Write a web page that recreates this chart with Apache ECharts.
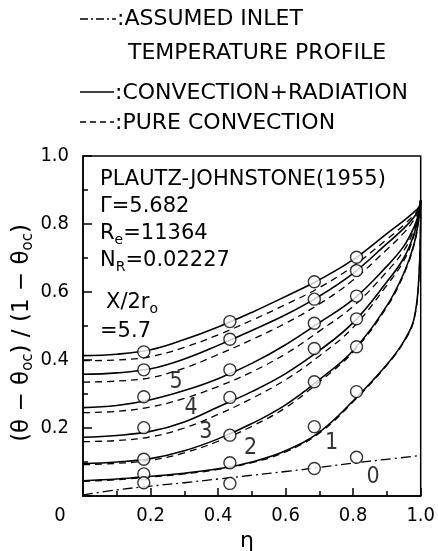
<!DOCTYPE html>
<html>
<head>
<meta charset="utf-8">
<script src="https://cdn.jsdelivr.net/npm/echarts@6/dist/echarts.min.js"></script>
<style>
  html, body { margin: 0; padding: 0; background: #fff; }
  #chart { width: 438px; height: 551px; }
</style>
</head>
<body>
<div id="chart"></div>
<script>
// eta grid for the computed profiles
const ETA = [0, 0.1, 0.2, 0.3, 0.4, 0.5, 0.6, 0.7, 0.8, 0.9, 0.95, 0.98, 0.995, 1.0];

// convection + radiation (solid)
const rad57 = [0.413, 0.417, 0.430, 0.460, 0.497, 0.540, 0.587, 0.636, 0.695, 0.772, 0.810, 0.835, 0.850, 0.870];
const rad5  = [0.358, 0.362, 0.374, 0.403, 0.443, 0.487, 0.533, 0.588, 0.655, 0.742, 0.787, 0.820, 0.845, 0.870];
const rad4  = [0.260, 0.266, 0.283, 0.310, 0.345, 0.390, 0.445, 0.510, 0.578, 0.676, 0.735, 0.790, 0.835, 0.870];
const rad3  = [0.173, 0.178, 0.190, 0.218, 0.262, 0.307, 0.360, 0.428, 0.510, 0.630, 0.700, 0.770, 0.830, 0.870];
const rad2  = [0.095, 0.100, 0.110, 0.133, 0.168, 0.213, 0.268, 0.342, 0.428, 0.560, 0.655, 0.740, 0.820, 0.870];
const rad1  = [0.045, 0.050, 0.058, 0.067, 0.080, 0.100, 0.133, 0.188, 0.280, 0.387, 0.455, 0.520, 0.650, 0.870];

// pure convection (dashed)
const conv57 = [0.398, 0.400, 0.410, 0.437, 0.474, 0.517, 0.563, 0.613, 0.676, 0.755, 0.797, 0.827, 0.846, 0.870];
const conv5  = [0.335, 0.338, 0.348, 0.376, 0.416, 0.460, 0.508, 0.565, 0.635, 0.725, 0.774, 0.812, 0.840, 0.870];
const conv4  = [0.245, 0.249, 0.262, 0.287, 0.322, 0.365, 0.418, 0.485, 0.558, 0.660, 0.722, 0.782, 0.830, 0.870];
const conv3  = [0.160, 0.163, 0.174, 0.200, 0.240, 0.287, 0.342, 0.412, 0.496, 0.620, 0.692, 0.765, 0.828, 0.870];
const conv2  = [0.092, 0.096, 0.105, 0.127, 0.161, 0.205, 0.260, 0.336, 0.424, 0.556, 0.652, 0.737, 0.818, 0.870];
const conv1  = [0.043, 0.048, 0.056, 0.065, 0.078, 0.098, 0.130, 0.185, 0.277, 0.385, 0.453, 0.518, 0.648, 0.870];

// assumed inlet profile (dash-dot)
const ETA_IN = [0, 0.1, 0.2, 0.3, 0.4, 0.5, 0.6, 0.7, 0.8, 0.9, 1.0];
const inlet  = [0.003, 0.018, 0.029, 0.039, 0.050, 0.061, 0.072, 0.084, 0.097, 0.108, 0.119];

// experiment, Plautz-Johnstone (1955)
const ETA_EXP = [0.18, 0.435, 0.685, 0.81];
const exp57 = [0.424, 0.513, 0.630, 0.702];
const exp5  = [0.371, 0.461, 0.579, 0.663];
const exp4  = [0.292, 0.371, 0.508, 0.588];
const exp3  = [0.201, 0.290, 0.434, 0.521];
const exp2  = [0.108, 0.179, 0.336, 0.439];
const exp1  = [0.065, 0.098, 0.204, 0.307];
const exp0  = [0.039, 0.037, 0.081, 0.114];

// curve numbers (X/2r0)
const curveNames = ['5', '4', '3', '2', '1', '0'];
const curveLabelAt = [[0.276, 0.336], [0.32, 0.258], [0.364, 0.189], [0.496, 0.142], [0.736, 0.155], [0.859, 0.057]];

const FONT = '"DejaVu Sans Condensed", "Liberation Sans Narrow", "DejaVu Sans", sans-serif';
const WIDE = '"DejaVu Sans", sans-serif';
const pairs = (xs, ys) => xs.map((x, i) => [x, ys[i]]);

function solid(ys) {
  return {
    type: 'line', data: pairs(ETA, ys), showSymbol: false, silent: true,
    smooth: 0.4, z: 2,
    lineStyle: {color: '#000', width: 1.6},
  };
}
function dashed(ys) {
  return {
    type: 'line', data: pairs(ETA, ys), showSymbol: false, silent: true,
    smooth: 0.4, z: 2,
    lineStyle: {color: '#000', width: 1.3, type: [7, 5]},
  };
}
function points(ys) {
  return {
    type: 'scatter', data: pairs(ETA_EXP, ys), symbol: 'circle', symbolSize: 12, z: 5,
    itemStyle: {color: '#fff', borderColor: '#000', borderWidth: 1.4},
  };
}

const series = [
  solid(rad57), solid(rad5), solid(rad4), solid(rad3), solid(rad2), solid(rad1),
  dashed(conv57), dashed(conv5), dashed(conv4), dashed(conv3), dashed(conv2), dashed(conv1),
  {
    type: 'line', data: pairs(ETA_IN, inlet), showSymbol: false, silent: true, smooth: 0.4, z: 2,
    lineStyle: {color: '#000', width: 1.3, type: [10, 4, 2, 4]},
  },
  points(exp57), points(exp5), points(exp4), points(exp3), points(exp2), points(exp1), points(exp0),
  {
    type: 'scatter', symbolSize: 1, silent: true, z: 6,
    itemStyle: {color: 'rgba(0,0,0,0)'},
    data: curveNames.map((n, i) => ({name: n, value: curveLabelAt[i]})),
    label: {show: true, position: 'inside', formatter: '{b}', color: '#000', fontSize: 23, fontFamily: FONT},
  },
];

const txt = (x, y, text, font, extra) => ({
  type: 'text', x, y, silent: true,
  style: Object.assign({text, fill: '#000', font: font, textVerticalAlign: 'middle'}, extra || {}),
});
const subRich = {
  m: {fontSize: 21, fontFamily: WIDE, color: '#000', lineHeight: 26},
  s: {fontSize: 14, fontFamily: WIDE, color: '#000', verticalAlign: 'bottom'},
};
const richTxt = (x, y, text) => ({
  type: 'text', x, y, silent: true,
  style: {text, rich: subRich, fontSize: 21, fontFamily: WIDE, fill: '#000', verticalAlign: 'middle'},
});
const seg = (x1, x2, y, dash) => ({
  type: 'line', silent: true, shape: {x1, y1: y, x2, y2: y},
  style: {stroke: '#000', lineWidth: 1.5, lineDash: dash},
});

const LEG = '22px ' + WIDE;
const INS = '21px ' + WIDE;

const chart = echarts.init(document.getElementById('chart'), null, {renderer: 'canvas'});
chart.setOption({
  backgroundColor: '#fff',
  animation: false,
  grid: {left: 83, top: 156, width: 340, height: 340, show: true, borderColor: '#000', borderWidth: 1.5},
  xAxis: {
    type: 'value', min: 0, max: 1, interval: 0.2,
    axisLine: {lineStyle: {color: '#000', width: 1.5}},
    axisTick: {inside: true, length: 8, lineStyle: {color: '#000', width: 1.5}},
    minorTick: {show: true, splitNumber: 2, length: 5, lineStyle: {color: '#000', width: 1.5}},
    splitLine: {show: false},
    axisLabel: {
      color: '#000', fontSize: 20, fontFamily: FONT, margin: 10,
      formatter: v => (v === 0 ? '' : v.toFixed(1)),
    },
  },
  yAxis: {
    type: 'value', min: 0, max: 1, interval: 0.2,
    axisLine: {lineStyle: {color: '#000', width: 1.5}},
    axisTick: {inside: true, length: 9, lineStyle: {color: '#000', width: 1.5}},
    minorTick: {show: true, splitNumber: 2, length: 5, lineStyle: {color: '#000', width: 1.5}},
    splitLine: {show: false},
    axisLabel: {
      color: '#000', fontSize: 20, fontFamily: FONT, margin: 14, padding: [6, 0, 0, 0],
      formatter: v => (v === 0 ? '' : v.toFixed(1)),
    },
  },
  series,
  graphic: [
    // legend
    seg(80, 116, 19, [8, 3, 2, 3]), txt(117, 19, ':ASSUMED INLET', LEG),
    txt(128, 53, 'TEMPERATURE PROFILE', LEG),
    seg(80, 114, 92, null), txt(115, 93, ':CONVECTION+RADIATION', LEG),
    seg(80, 114, 122, [6, 4]), txt(115, 123, ':PURE CONVECTION', LEG),
    // inset annotation
    txt(100, 180, 'PLAUTZ-JOHNSTONE(1955)', INS),
    txt(100, 207, 'Γ=5.682', INS),
    richTxt(100, 234, '{m|R}{s|e}{m|=11364}'),
    richTxt(100, 261, '{m|N}{s|R}{m|=0.02227}'),
    richTxt(106, 303, '{m|X/2r}{s|o}'),
    txt(100, 332, '=5.7', INS),
    // origin and axis titles
    txt(60, 516, '0', '20px ' + FONT, {textAlign: 'center'}),
    txt(247, 541, 'η', '22px ' + WIDE, {textAlign: 'center'}),
    {
      type: 'text', x: 22, y: 333, rotation: Math.PI / 2, silent: true,
      style: {
        text: '{y|(θ − θ}{z|oc}{y|) / (1 − θ}{z|oc}{y|)}',
        rich: {
          y: {fontSize: 23, fontFamily: WIDE, color: '#000', lineHeight: 28},
          z: {fontSize: 15, fontFamily: WIDE, color: '#000', verticalAlign: 'bottom'},
        },
        fill: '#000', align: 'center', verticalAlign: 'middle',
      },
    },
  ],
});
</script>
</body>
</html>
